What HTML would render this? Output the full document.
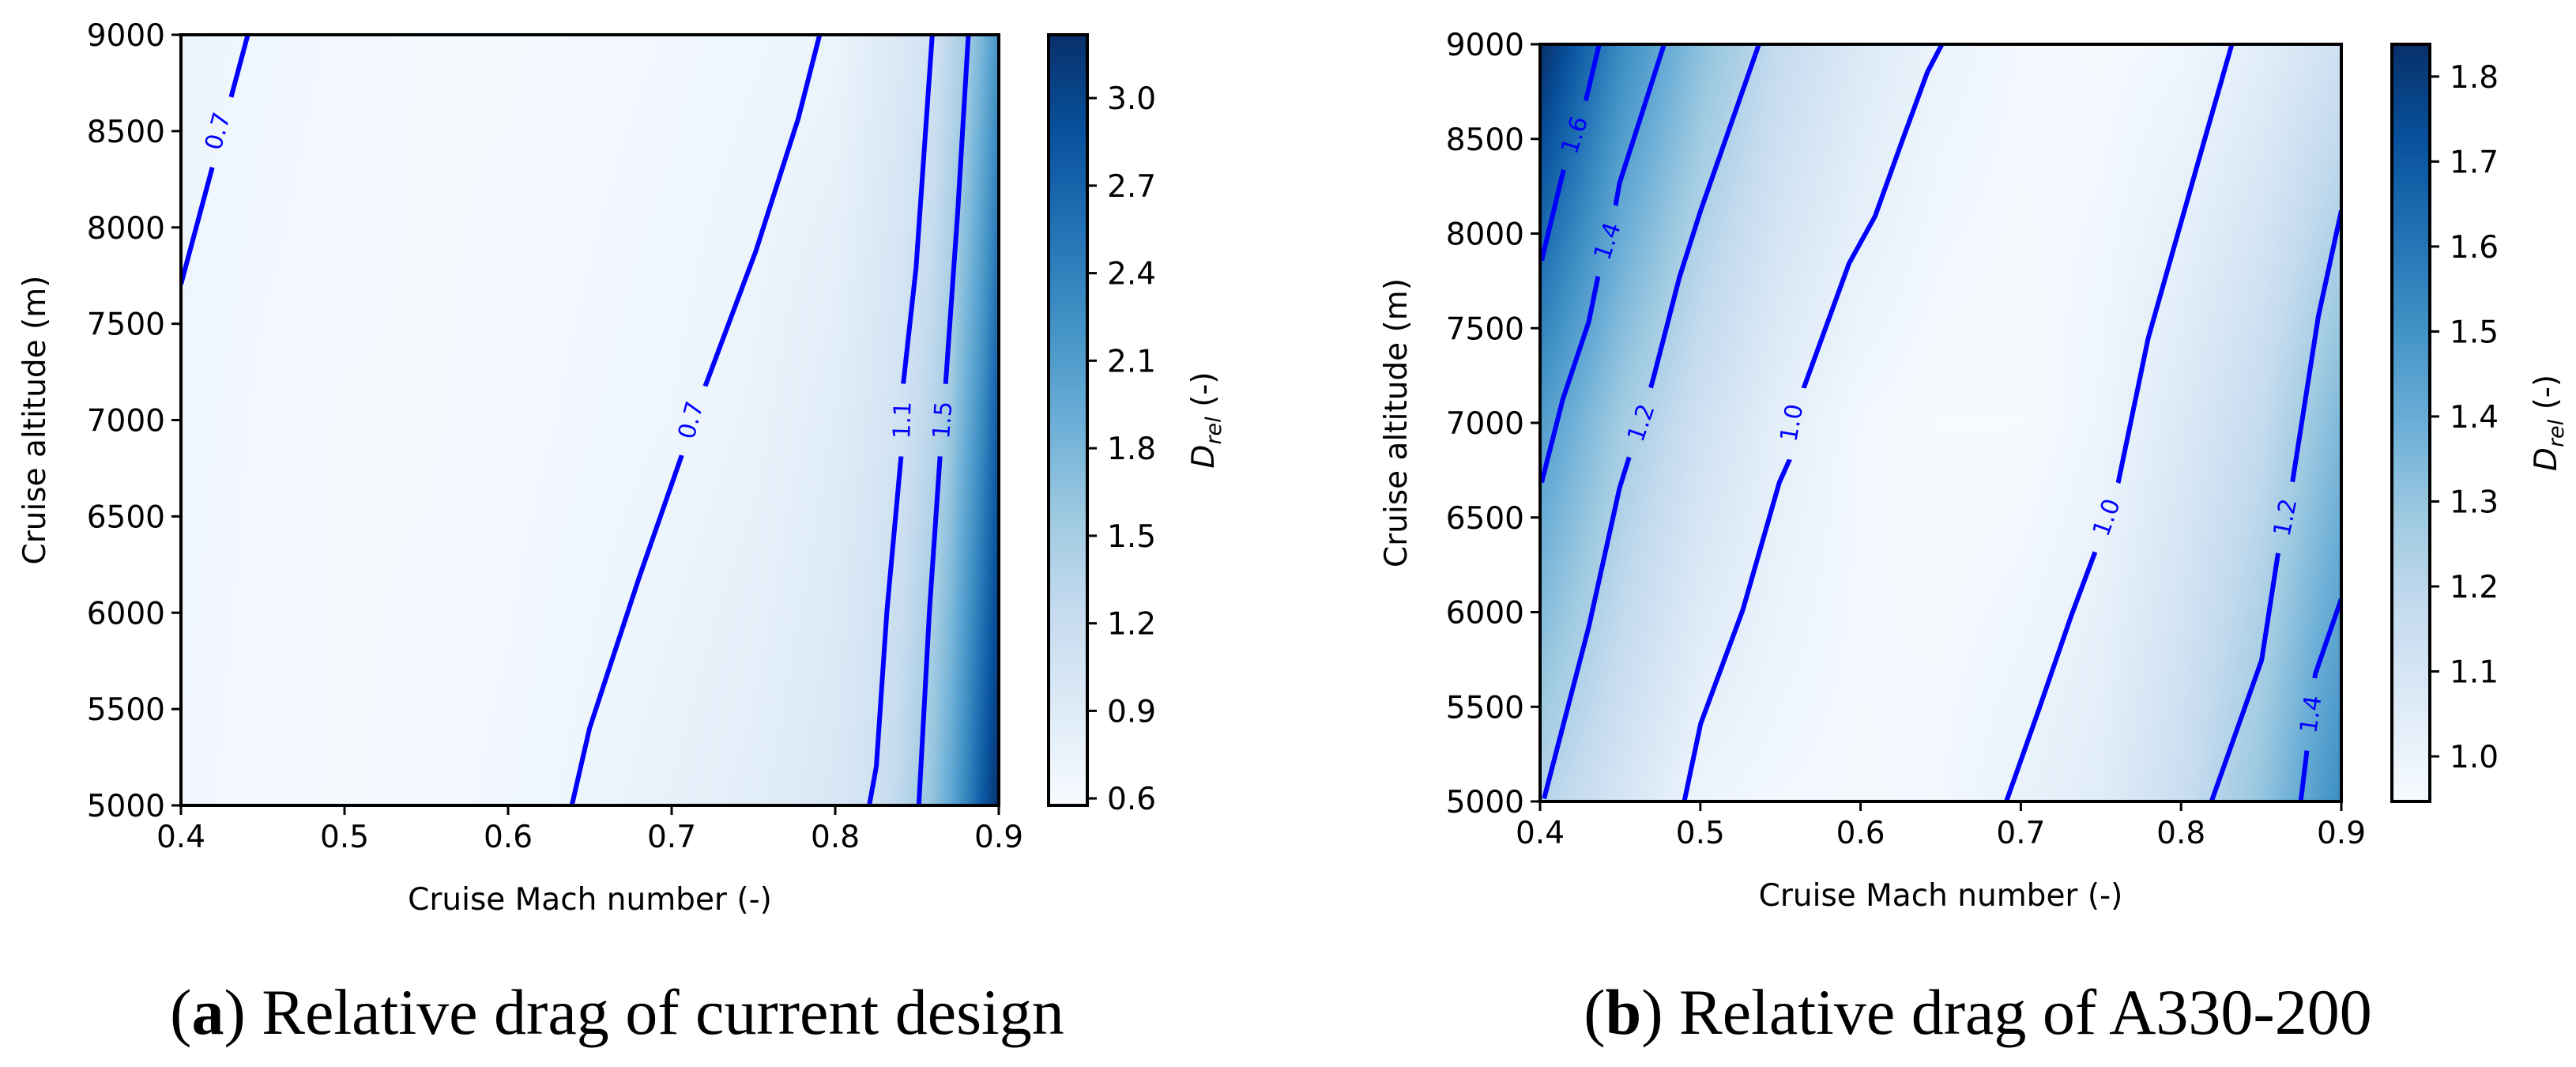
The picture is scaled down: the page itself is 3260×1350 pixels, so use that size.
<!DOCTYPE html>
<html><head><meta charset="utf-8">
<style>
html,body{margin:0;padding:0;background:#fff;}
#root{position:relative;width:3260px;height:1350px;overflow:hidden;background:#fff;}
svg{position:absolute;left:0;top:0;}
canvas{position:absolute;}
</style></head>
<body>
<div id="root">
<canvas id="hm1"></canvas>
<canvas id="cb1"></canvas>
<canvas id="hm2"></canvas>
<canvas id="cb2"></canvas>
<svg id="svg" width="3260" height="1350" xmlns="http://www.w3.org/2000/svg">
  <text x="781" y="1308" font-family="Liberation Serif, serif" font-size="82" text-anchor="middle">(<tspan font-weight="bold">a</tspan>) Relative drag of current design</text>
  <text x="2503" y="1308" font-family="Liberation Serif, serif" font-size="82" text-anchor="middle">(<tspan font-weight="bold">b</tspan>) Relative drag of A330-200</text>
</svg>
</div>
<script>
// ---------- Panel A data ----------
const machA = [0.40,0.45,0.50,0.55,0.60,0.65,0.70,0.75,0.80,0.82,0.84,0.86,0.87,0.88,0.89,0.90];
const altA = [5000,7000,9000];
const dragA5000 = [0.66,0.63,0.62,0.63,0.66,0.71,0.78,0.86,0.98,1.09,1.30,1.65,1.95,2.35,2.80,3.20];
const dragA7000 = [0.68,0.64,0.62,0.62,0.63,0.66,0.69,0.75,0.88,0.97,1.08,1.35,1.55,1.90,2.30,2.80];
const dragA9000 = [0.72,0.67,0.64,0.62,0.62,0.63,0.65,0.68,0.72,0.85,0.95,1.10,1.30,1.50,1.80,2.20];
const cbarTicksA = [0.6,0.9,1.2,1.5,1.8,2.1,2.4,2.7,3.0];
const contA_07left = [[0.400,7705],[0.4407,8994]];
const contA_07 = [[0.639,5000],[0.6498,5400],[0.680,6180],[0.706,6813],[0.7117,7000],[0.721,7187],[0.7515,7878],[0.7775,8568],[0.7905,9000]];
const contA_11 = [[0.8208,5000],[0.8251,5201],[0.8316,6007],[0.8403,6813],[0.8410,7000],[0.8416,7187],[0.8494,7791],[0.8593,9000]];
const contA_15 = [[0.8511,5000],[0.8576,6007],[0.8641,6813],[0.8656,7000],[0.8675,7187],[0.8749,8079],[0.8814,9000]];
const labelsA = [[0.4225,8500,"0.7"],[0.7117,7000,"0.7"],[0.8410,7000,"1.1"],[0.8656,7000,"1.5"]];

// ---------- Panel B data ----------
const machB = [0.40,0.45,0.50,0.55,0.60,0.65,0.70,0.75,0.80,0.85,0.90];
const altB = [5000,7000,9000];
const dragB5000 = [1.22,1.10,0.99,0.97,0.96,0.97,1.01,1.05,1.15,1.30,1.52];
const dragB7000 = [1.46,1.27,1.13,1.03,0.97,0.95,0.95,0.99,1.07,1.17,1.35];
const dragB9000 = [1.84,1.53,1.32,1.17,1.07,1.00,0.97,0.96,0.98,1.04,1.13];
const cbarTicksB = [1.0,1.1,1.2,1.3,1.4,1.5,1.6,1.7,1.8];
const contB_16 = [[0.401,7857],[0.4152,8355],[0.4215,8520],[0.4278,8677],[0.4369,9000]];
const contB_14a = [[0.401,6685],[0.4142,7125],[0.4304,7535],[0.4380,7850],[0.4440,8000],[0.4496,8267],[0.4774,9000]];
const contB_12a = [[0.4025,5015],[0.4304,5923],[0.4496,6656],[0.4560,6830],[0.4630,7000],[0.4709,7242],[0.487,7769],[0.5002,8121],[0.5366,9000]];
const contB_10a = [[0.490,5000],[0.5002,5410],[0.5265,6011],[0.5493,6685],[0.5570,6830],[0.5645,7183],[0.5928,7842],[0.609,8091],[0.6265,8502],[0.6417,8853],[0.6508,9000]];
const contB_10b = [[0.691,5000],[0.7112,5484],[0.7315,5982],[0.7460,6310],[0.7540,6500],[0.7608,6685],[0.7795,7447],[0.8099,8355],[0.8317,9000]];
const contB_12b = [[0.819,5000],[0.8503,5747],[0.8604,6304],[0.8650,6500],[0.8695,6685],[0.8857,7564],[0.900,8121]];
const contB_14b = [[0.8747,5000],[0.8790,5300],[0.8800,5450],[0.8838,5674],[0.900,6070]];
const labelsB = [[0.4215,8520,"1.6"],[0.4420,7960,"1.4"],[0.4630,7000,"1.2"],[0.5570,7000,"1.0"],[0.7535,6500,"1.0"],[0.8650,6500,"1.2"],[0.8810,5460,"1.4"]];

const xTicks = [0.4,0.5,0.6,0.7,0.8,0.9];
const yTicks = [5000,5500,6000,6500,7000,7500,8000,8500,9000];

const NS = "http://www.w3.org/2000/svg";
const svg = document.getElementById('svg');
const BLUES = [[247,251,255],[222,235,247],[198,219,239],[158,202,225],[107,174,214],[66,146,198],[33,113,181],[8,81,156],[8,48,107]];
function blues(t){
  t = Math.max(0, Math.min(1, t));
  const p = t*(BLUES.length-1), i = Math.min(BLUES.length-2, Math.floor(p)), f = p - i;
  return BLUES[i].map((c,k)=>Math.round(c + (BLUES[i+1][k]-c)*f));
}
function mk(tag, attrs, parent){
  const e = document.createElementNS(NS, tag);
  for (const k in attrs) e.setAttribute(k, attrs[k]);
  (parent||svg).appendChild(e);
  return e;
}
function interp(xs, ys, x){
  if (x <= xs[0]) return ys[0];
  for (let i=0;i<xs.length-1;i++){
    if (x <= xs[i+1]){ const f=(x-xs[i])/(xs[i+1]-xs[i]); return ys[i]+(ys[i+1]-ys[i])*f; }
  }
  return ys[ys.length-1];
}

function drawPanel(P){
  const L=P.left, R=P.right, T=P.top, B=P.bottom;
  const xS = m => L + (m-0.4)/0.5*(R-L);
  const yS = a => B - (a-5000)/4000*(B-T);
  const cS = v => P.cbB - (v-P.vmin)/(P.vmax-P.vmin)*(P.cbB-P.cbT);

  const cv = document.getElementById(P.hm);
  const W = R-L, H = B-T;
  cv.width=W; cv.height=H; cv.style.left=L+'px'; cv.style.top=T+'px';
  const ctx = cv.getContext('2d'), img = ctx.createImageData(W,H);
  const rows = P.rows;
  for (let x=0;x<W;x++){
    const m = 0.4 + (x+0.5)/W*0.5;
    const colVals = rows.map(r=>interp(P.mach, r, m));
    for (let y=0;y<H;y++){
      const a = 5000 + (H-y-0.5)/H*4000;
      const v = interp(P.alt, colVals, a);
      const c = blues((v-P.vmin)/(P.vmax-P.vmin));
      const idx=(y*W+x)*4;
      img.data[idx]=c[0]; img.data[idx+1]=c[1]; img.data[idx+2]=c[2]; img.data[idx+3]=255;
    }
  }
  ctx.putImageData(img,0,0);

  const cb = document.getElementById(P.cb);
  const CW = P.cbR-P.cbL, CH = P.cbB-P.cbT;
  cb.width=CW; cb.height=CH; cb.style.left=P.cbL+'px'; cb.style.top=P.cbT+'px';
  const c2 = cb.getContext('2d');
  for (let y=0;y<CH;y++){ const c=blues(1-(y+0.5)/CH); c2.fillStyle=`rgb(${c[0]},${c[1]},${c[2]})`; c2.fillRect(0,y,CW,1); }

  const defs = mk('defs',{});
  const mask = mk('mask',{id:P.id+'-mask',maskUnits:'userSpaceOnUse',x:0,y:0,width:3260,height:1350},defs);
  mk('rect',{x:0,y:0,width:3260,height:1350,fill:'white'},mask);
  const clip = mk('clipPath',{id:P.id+'-clip'},defs);
  mk('rect',{x:L,y:T,width:W,height:H},clip);

  const g = mk('g',{mask:`url(#${P.id}-mask)`,'clip-path':`url(#${P.id}-clip)`});
  
  
  P.contours.forEach((c,i)=>{
    const d = c.pts.map((p,j)=>(j?'L':'M')+xS(p[0]).toFixed(1)+','+yS(p[1]).toFixed(1)).join(' ');
    const path = mk('path',{d, fill:'none', stroke:'#0000ff','stroke-width':6,'stroke-linejoin':'round'},g);
    
    
  });
  P.labels.forEach((lb)=>{
    const px = xS(lb[0]), py = yS(lb[1]);
    let best=null, bd=1e9;
    P.contours.forEach(c=>{
      for (let j=0;j<c.pts.length-1;j++){
        const ax=xS(c.pts[j][0]), ay=yS(c.pts[j][1]), bx=xS(c.pts[j+1][0]), by=yS(c.pts[j+1][1]);
        const seg=Math.hypot(bx-ax,by-ay);
        const t=Math.max(0,Math.min(1,((px-ax)*(bx-ax)+(py-ay)*(by-ay))/(seg*seg)));
        const qx=ax+t*(bx-ax), qy=ay+t*(by-ay), d2=Math.hypot(qx-px,qy-py);
        if (d2<bd){bd=d2; best=Math.atan2(by-ay,bx-ax)*180/Math.PI;}
      }
    });
    let ang = best; if (ang>90) ang-=180; if (ang<-90) ang+=180;
    mk('rect',{x:px-46,y:py-20,width:92,height:40,fill:'black',transform:`rotate(${ang} ${px} ${py})`},mask);
    const t = mk('text',{x:px,y:py+10,'text-anchor':'middle','font-family':'DejaVu Sans, sans-serif','font-size':30,fill:'#0000ff',transform:`rotate(${ang} ${px} ${py})`});
    t.textContent = lb[2];
    
    
  });

  const fr = mk('rect',{x:L,y:T,width:W,height:H,fill:'none',stroke:'#000','stroke-width':4});
  
  
  xTicks.forEach(v=>{
    const x=xS(v);
    mk('line',{x1:x,y1:B,x2:x,y2:B+12,stroke:'#000','stroke-width':3});
    const t=mk('text',{x:x,y:B+53,'text-anchor':'middle','font-family':'DejaVu Sans, sans-serif','font-size':39});
    t.textContent=v.toFixed(1);
    
    
  });
  yTicks.forEach(v=>{
    const y=yS(v);
    mk('line',{x1:L-12,y1:y,x2:L,y2:y,stroke:'#000','stroke-width':3});
    const t=mk('text',{x:L-20,y:y+14,'text-anchor':'end','font-family':'DejaVu Sans, sans-serif','font-size':39});
    t.textContent=String(v);
    
    
  });
  const xl=mk('text',{x:(L+R)/2,y:B+132,'text-anchor':'middle','font-family':'DejaVu Sans, sans-serif','font-size':39});
  xl.textContent='Cruise Mach number (-)';
  
  
  const yl=mk('text',{x:P.ylx,y:(T+B)/2,'text-anchor':'middle','font-family':'DejaVu Sans, sans-serif','font-size':39,transform:`rotate(-90 ${P.ylx} ${(T+B)/2})`,dy:14});
  yl.textContent='Cruise altitude (m)';
  
  

  const cf=mk('rect',{x:P.cbL,y:P.cbT,width:CW,height:CH,fill:'none',stroke:'#000','stroke-width':4});
  
  
  P.cticks.forEach(v=>{
    const y=cS(v);
    mk('line',{x1:P.cbR,y1:y,x2:P.cbR+12,y2:y,stroke:'#000','stroke-width':3});
    const t=mk('text',{x:P.cbR+25,y:y+14,'font-family':'DejaVu Sans, sans-serif','font-size':39});
    t.textContent=v.toFixed(1);
    
    
  });
  const cy=(P.cbT+P.cbB)/2, cx=P.cbR+146;
  const cl=mk('text',{x:cx,y:cy,'text-anchor':'middle','font-family':'DejaVu Sans, sans-serif','font-size':39,transform:`rotate(-90 ${cx} ${cy})`,dy:14});
  cl.innerHTML='<tspan font-style="italic">D</tspan><tspan font-style="italic" font-size="27" dy="9">rel</tspan><tspan dy="-9"> (-)</tspan>';
  
  
}

drawPanel({id:'panel-a',hm:'hm1',cb:'cb1',left:229,right:1264,top:44,bottom:1019,
  cbL:1327,cbR:1376,cbT:44,cbB:1019,vmin:0.576,vmax:3.217,ylx:43,
  mach:machA,alt:altA,rows:[dragA5000,dragA7000,dragA9000],cticks:cbarTicksA,
  contours:[{name:'0.7-left',pts:contA_07left},{name:'0.7',pts:contA_07},{name:'1.1',pts:contA_11},{name:'1.5',pts:contA_15}],
  labels:labelsA});
drawPanel({id:'panel-b',hm:'hm2',cb:'cb2',left:1949,right:2963,top:56,bottom:1014,
  cbL:3027,cbR:3075,cbT:56,cbB:1014,vmin:0.947,vmax:1.838,ylx:1766,
  mach:machB,alt:altB,rows:[dragB5000,dragB7000,dragB9000],cticks:cbarTicksB,
  contours:[{name:'1.6',pts:contB_16},{name:'1.4-left',pts:contB_14a},{name:'1.2-left',pts:contB_12a},{name:'1.0-left',pts:contB_10a},{name:'1.0-right',pts:contB_10b},{name:'1.2-right',pts:contB_12b},{name:'1.4-right',pts:contB_14b}],
  labels:labelsB});
</script>
</body></html>
